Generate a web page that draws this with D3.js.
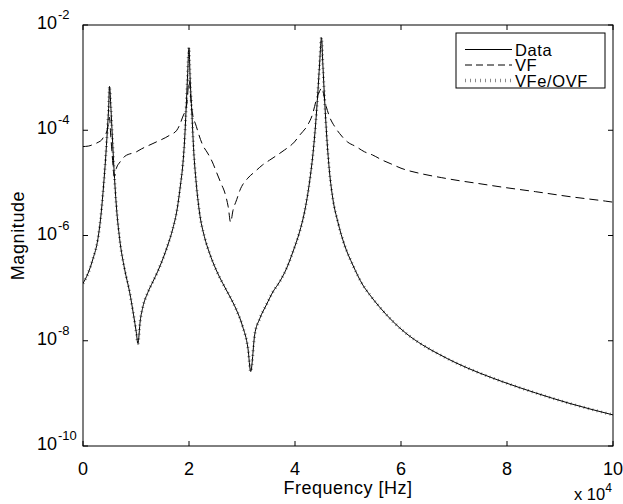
<!DOCTYPE html>
<html>
<head>
<meta charset="utf-8">
<script src="https://cdn.jsdelivr.net/npm/d3@7"></script>
<style>
  body { margin: 0; background: #fff; }
  svg { display: block; }
  text { font-family: "Liberation Sans", Arial, Helvetica, sans-serif; fill: #000; }
</style>
</head>
<body>
<svg id="chart" width="623" height="504"></svg>
<script>
const freqData = [0, 940, 1880, 2820, 3450, 3890, 4270, 4580, 4830, 5000, 5270, 5520, 5840, 6280, 6910,
  7850, 8790, 9540, 10040, 10360, 10800, 11300, 12240, 13180, 14120, 15070, 16010, 16950, 17770,
  18390, 18830, 19150, 19460, 19710, 20000, 20210, 20530, 20900, 21340, 21970, 22910, 23850, 25110,
  26370, 27650, 28880, 30100, 31130, 31640, 32390, 33330, 34590, 35840, 37100, 38350, 39610, 40860,
  41800, 42750, 43370, 43880, 44320, 44630, 45000, 45260, 45570, 46010, 46510, 47140, 48080, 49340,
  50910, 52790, 54050, 55930, 58440, 60960, 64090, 67230, 70370, 74770, 79200, 85400, 91700, 100000];
const magData = [1.23e-7, 1.9e-7, 3.6e-7, 8.7e-7, 2.8e-6, 9.1e-6, 2.95e-5, 9.3e-5, 2.6e-4, 6.8e-4, 2.6e-4, 8.1e-5, 1.9e-5, 3.8e-6, 8.7e-7,
  2.3e-7, 8.5e-8, 3.1e-8, 1.48e-8, 8.9e-9, 2.4e-8, 4.4e-8, 8.3e-8, 1.32e-7, 2.1e-7, 3.6e-7, 6.6e-7, 1.35e-6, 3.2e-6,
  9.1e-6, 2.2e-5, 6.0e-5, 2.6e-4, 9.8e-4, 3.7e-3, 9.8e-4, 2.24e-4, 3.9e-5, 1.05e-5, 2.8e-6, 9.5e-7, 4.7e-7, 2.24e-7,
  1.23e-7, 7.1e-8, 4.0e-8, 1.9e-8, 7.1e-9, 2.6e-9, 1.29e-8, 2.6e-8, 4.8e-8, 8.5e-8, 1.32e-7, 2.3e-7, 4.9e-7, 1.17e-6,
  2.8e-6, 1.05e-5, 3.4e-5, 1.26e-4, 5.4e-4, 1.74e-3, 5.75e-3, 1.74e-3, 4.1e-4, 7.1e-5, 1.62e-5, 5.0e-6, 1.82e-6, 6.6e-7,
  2.75e-7, 1.15e-7, 7.6e-8, 4.4e-8, 2.34e-8, 1.38e-8, 8.3e-9, 5.5e-9, 3.8e-9, 2.45e-9, 1.66e-9, 1.02e-9, 6.5e-10, 3.9e-10];

// VFe/OVF fit sits on top of the data
const magFit = magData.slice();

// plain VF fit (dashed)
const freqVF = [0, 1000, 2000, 3000, 3500, 4000, 4460, 4800, 5000, 5200, 5500, 5900, 6300, 7000, 7900,
  10100, 11000, 13200, 16400, 17700, 18800, 19600, 20000, 20500, 21400, 22600, 23500, 24400, 25200,
  26000, 26800, 27400, 27850, 28300, 29000, 29600, 31100, 32400, 33900, 35200, 36700, 38000, 39900,
  40900, 42400, 43300, 44000, 44600, 45000, 45900, 46500, 47500, 48400, 49900, 51500, 53100, 54600,
  56500, 58100, 60000, 64000, 67600, 71000, 73800, 79100, 85400, 91700, 98600, 100000];
const magVF = [4.9e-5, 5.0e-5, 5.4e-5, 6.0e-5, 6.5e-5, 7.8e-5, 9.3e-5, 1.32e-4, 1.78e-4, 8.9e-5, 3.5e-5, 1.32e-5, 1.9e-5, 2.5e-5, 3.2e-5,
  3.9e-5, 4.4e-5, 5.6e-5, 8.1e-5, 1.0e-4, 1.78e-4, 3.2e-4, 8.9e-4, 2.6e-4, 1.17e-4, 5.2e-5, 3.7e-5, 2.5e-5, 1.58e-5,
  1.0e-5, 6.3e-6, 3.5e-6, 1.78e-6, 3.0e-6, 4.8e-6, 7.2e-6, 1.23e-5, 1.62e-5, 2.2e-5, 2.7e-5, 3.4e-5, 4.2e-5, 6.0e-5,
  8.1e-5, 1.26e-4, 2.0e-4, 3.7e-4, 5.4e-4, 6.3e-4, 2.8e-4, 1.82e-4, 1.17e-4, 8.7e-5, 6.0e-5, 4.9e-5, 3.9e-5, 3.4e-5,
  2.7e-5, 2.3e-5, 1.9e-5, 1.48e-5, 1.26e-5, 1.10e-5, 1.0e-5, 8.3e-6, 6.8e-6, 5.5e-6, 4.5e-6, 4.3e-6];

const xTicks = [0, 20000, 40000, 60000, 80000, 100000];
const xTickLabels = ["0", "2", "4", "6", "8", "10"];
const yTicks = [1e-10, 1e-8, 1e-6, 1e-4, 1e-2];
const yTickExps = ["-10", "-8", "-6", "-4", "-2"];
const legendNames = ["Data", "VF", "VFe/OVF"];

// plot box
const marginLeft = 83, marginRight = 10, marginTop = 25, marginBottom = 58;
const width = 623, height = 504;

const svg = d3.select("#chart");

const x = d3.scaleLinear().domain([0, 100000]).range([marginLeft, width - marginRight]);
const y = d3.scaleLog().domain([1e-10, 1e-2]).range([height - marginBottom, marginTop]);

svg.append("clipPath").attr("id", "plotclip")
  .append("rect")
    .attr("x", x(0)).attr("y", y(1e-2))
    .attr("width", x(100000) - x(0)).attr("height", y(1e-10) - y(1e-2));

const line = d3.line()
  .x(d => x(d[0]))
  .y(d => y(d[1]))
  .curve(d3.curveMonotoneX);

const plot = svg.append("g").attr("clip-path", "url(#plotclip)");

// dotted fit underneath, solid data on top
plot.append("path")
  .attr("d", line(d3.zip(freqData, magFit)))
  .attr("fill", "none")
  .attr("stroke", "#8a8a8a")
  .attr("stroke-width", 3)
  .attr("stroke-dasharray", "1,3.5");

plot.append("path")
  .attr("d", line(d3.zip(freqData, magData)))
  .attr("fill", "none")
  .attr("stroke", "#000")
  .attr("stroke-width", 1);

plot.append("path")
  .attr("d", line(d3.zip(freqVF, magVF)))
  .attr("fill", "none")
  .attr("stroke", "#000")
  .attr("stroke-width", 1)
  .attr("stroke-dasharray", "9,5");

// axes box, MATLAB style ticks pointing inward
const tickLen = 5;
const axis = svg.append("g").attr("stroke", "#000").attr("stroke-width", 1);

axis.append("rect")
  .attr("x", x(0)).attr("y", y(1e-2))
  .attr("width", x(100000) - x(0)).attr("height", y(1e-10) - y(1e-2))
  .attr("fill", "none");

xTicks.forEach(t => {
  axis.append("line").attr("x1", x(t)).attr("x2", x(t))
    .attr("y1", y(1e-10)).attr("y2", y(1e-10) - tickLen);
  axis.append("line").attr("x1", x(t)).attr("x2", x(t))
    .attr("y1", y(1e-2)).attr("y2", y(1e-2) + tickLen);
});
yTicks.forEach(t => {
  axis.append("line").attr("x1", x(0)).attr("x2", x(0) + tickLen)
    .attr("y1", y(t)).attr("y2", y(t));
  axis.append("line").attr("x1", x(100000)).attr("x2", x(100000) - tickLen)
    .attr("y1", y(t)).attr("y2", y(t));
});

// tick labels
svg.append("g").selectAll("text")
  .data(xTicks)
  .enter()
  .append("text")
    .attr("x", d => x(d))
    .attr("y", 475)
    .attr("text-anchor", "middle")
    .attr("font-size", "18px")
    .text((d, i) => xTickLabels[i]);

const yl = svg.append("g").selectAll("g")
  .data(yTicks)
  .enter()
  .append("g");
yl.append("text")
  .attr("x", 57)
  .attr("y", d => y(d) + 4)
  .attr("text-anchor", "end")
  .attr("font-size", "18px")
  .text("10");
yl.append("text")
  .attr("x", 58)
  .attr("y", d => y(d) - 6)
  .attr("font-size", "13px")
  .text((d, i) => yTickExps[i]);

// axis labels
svg.append("text")
  .attr("x", (x(0) + x(100000)) / 2)
  .attr("y", 494)
  .attr("text-anchor", "middle")
  .attr("font-size", "18px")
  .attr("letter-spacing", "0.5px")
  .text("Frequency [Hz]");

svg.append("text")
  .attr("transform", "translate(24," + ((y(1e-2) + y(1e-10)) / 2) + ") rotate(-90)")
  .attr("text-anchor", "middle")
  .attr("font-size", "18px")
  .attr("letter-spacing", "0.6px")
  .text("Magnitude");

const mult = svg.append("text").attr("x", 574).attr("y", 500).attr("font-size", "16.5px");
mult.append("tspan").text("x 10");
mult.append("tspan").attr("dy", -8).attr("font-size", "12px").text("4");

// legend
const lg = svg.append("g");
lg.append("rect")
  .attr("x", 456).attr("y", 33).attr("width", 149).attr("height", 55)
  .attr("fill", "#fff").attr("stroke", "#000").attr("stroke-width", 1);

const legendStyles = [
  { stroke: "#000", width: 1, dash: null },
  { stroke: "#000", width: 1, dash: "7,4" },
  { stroke: "#8a8a8a", width: 3.5, dash: "1,4" }
];
legendNames.forEach((name, i) => {
  const ly = 49.5 + i * 15.5;
  const s = legendStyles[i];
  lg.append("line")
    .attr("x1", 465).attr("x2", 512)
    .attr("y1", ly).attr("y2", ly)
    .attr("stroke", s.stroke)
    .attr("stroke-width", s.width)
    .attr("stroke-dasharray", s.dash);
  lg.append("text")
    .attr("x", 515)
    .attr("y", ly + 6)
    .attr("font-size", "16.5px")
    .attr("letter-spacing", "0.6px")
    .text(name);
});
</script>
</body>
</html>
